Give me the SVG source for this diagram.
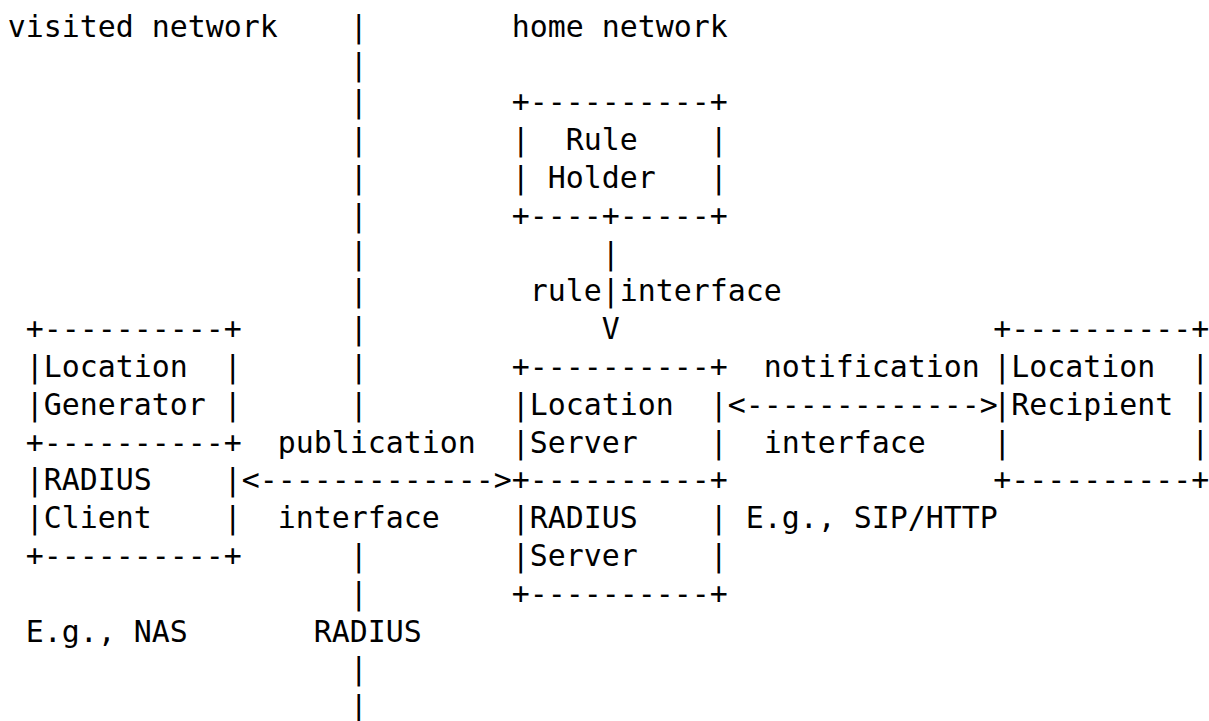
<svg xmlns="http://www.w3.org/2000/svg" width="1209" height="721" viewBox="0 0 1209 721" xml:space="preserve">
<style>
text{font-family:"DejaVu Sans Mono","Liberation Mono",monospace;font-size:29.9px;fill:#000;white-space:pre}
</style>
<rect width="1209" height="721" fill="#fff"/>
<g id="labels">
<text x="7.7" y="36.7">visited network</text>
<text x="511.7" y="36.7">home network</text>
</g>
<g id="rule-holder">
<text x="511.7" y="112.3">+----------+</text>
<text x="511.7" y="150.1">|  Rule    |</text>
<text x="511.7" y="187.9">| Holder   |</text>
<text x="511.7" y="225.7">+----+-----+</text>
</g>
<g id="location-generator">
<text x="25.7" y="339.1">+----------+</text>
<text x="25.7" y="376.9">|Location  |</text>
<text x="25.7" y="414.7">|Generator |</text>
<text x="25.7" y="452.5">+----------+</text>
</g>
<g id="radius-client">
<text x="25.7" y="490.3">|RADIUS    |</text>
<text x="25.7" y="528.1">|Client    |</text>
<text x="25.7" y="565.9">+----------+</text>
<text x="25.7" y="641.5">E.g., NAS</text>
</g>
<g id="location-server">
<text x="511.7" y="376.9">+----------+</text>
<text x="511.7" y="414.7">|Location  |</text>
<text x="511.7" y="452.5">|Server    |</text>
<text x="511.7" y="490.3">+----------+</text>
</g>
<g id="radius-server">
<text x="511.7" y="528.1">|RADIUS    |</text>
<text x="511.7" y="565.9">|Server    |</text>
<text x="511.7" y="603.7">+----------+</text>
</g>
<g id="location-recipient">
<text x="993.2" y="339.1">+----------+</text>
<text x="993.2" y="376.9">|Location  |</text>
<text x="993.2" y="414.7">|Recipient |</text>
<text x="993.2" y="452.5">|          |</text>
<text x="993.2" y="490.3">+----------+</text>
</g>
<g id="connectors">
<g id="network-divider">
<text x="349.7" y="36.7">|</text>
<text x="349.7" y="74.5">|</text>
<text x="349.7" y="112.3">|</text>
<text x="349.7" y="150.1">|</text>
<text x="349.7" y="187.9">|</text>
<text x="349.7" y="225.7">|</text>
<text x="349.7" y="263.5">|</text>
<text x="349.7" y="301.3">|</text>
<text x="349.7" y="339.1">|</text>
<text x="349.7" y="376.9">|</text>
<text x="349.7" y="414.7">|</text>
<text x="349.7" y="565.9">|</text>
<text x="349.7" y="603.7">|</text>
<text x="349.7" y="679.3">|</text>
<text x="349.7" y="717.1">|</text>
</g>
<g id="rule-interface">
<text x="601.7" y="263.5">|</text>
<text x="529.7" y="301.3">rule|interface</text>
<text x="601.7" y="339.1">V</text>
</g>
<g id="publication-interface">
<text x="277.7" y="452.5">publication</text>
<text x="241.7" y="490.3">&lt;-------------&gt;</text>
<text x="277.7" y="528.1">interface</text>
<text x="313.7" y="641.5">RADIUS</text>
</g>
<g id="notification-interface">
<text x="763.7" y="376.9">notification</text>
<text x="727.7" y="414.7">&lt;-------------&gt;</text>
<text x="763.7" y="452.5">interface</text>
<text x="745.7" y="528.1">E.g., SIP/HTTP</text>
</g>
</g>
</svg>
